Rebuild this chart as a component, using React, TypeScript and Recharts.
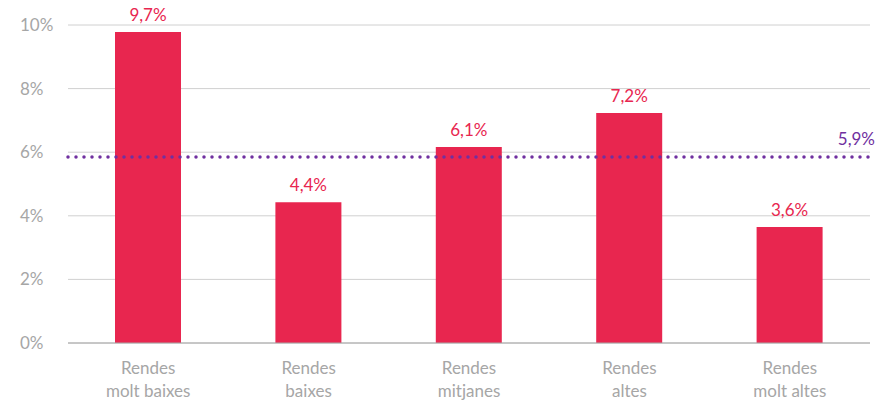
import React from 'react';
import { Bar, BarChart, CartesianGrid, LabelList, ReferenceLine, XAxis, YAxis } from 'recharts';

// categories (two lines each)
const categories = ['Rendes|molt baixes', 'Rendes|baixes', 'Rendes|mitjanes', 'Rendes|altes', 'Rendes|molt altes'];
// bar heights as drawn in the picture
const values = [9.78, 4.43, 6.16, 7.23, 3.65];
// labels printed above the bars
const valueLabels = ['9,7%', '4,4%', '6,1%', '7,2%', '3,6%'];
const yTicks = [0, 2, 4, 6, 8, 10];
const average = 5.85;
const averageLabel = '5,9%';

const BAR_COLOR = '#E8264F';
const LINE_COLOR = '#7030A0';
const TEXT_GRAY = '#A6A6A6';
const FONT = 'Lato, "Open Sans", sans-serif';

const data = categories.map((c, i) => ({ name: c, value: values[i], label: valueLabels[i] }));

const XTick = (props: any) => {
  const { x, y, payload } = props;
  const lines = String(payload.value).split('|');
  return (
    <text x={x} y={y} textAnchor="middle" fill={TEXT_GRAY} fontSize={17} fontFamily={FONT}>
      {lines.map((l, i) => (
        <tspan key={i} x={x} dy={23}>
          {l}
        </tspan>
      ))}
    </text>
  );
};

const YTick = (props: any) => {
  const { y, payload } = props;
  return (
    <text x={20} y={y} dy={6} textAnchor="start" fill={TEXT_GRAY} fontSize={17} fontFamily={FONT}>
      {`${payload.value}%`}
    </text>
  );
};

export default function App() {
  return (
    <div style={{ position: 'absolute', left: 0, top: 0, background: '#fff' }}>
      <BarChart
        width={895}
        height={402}
        data={data}
        margin={{ top: 25, right: 25, left: 0, bottom: 0 }}
        barCategoryGap={47}
      >
        <CartesianGrid vertical={false} stroke="#D0D0D0" strokeWidth={1} />
        <XAxis
          dataKey="name"
          tick={<XTick />}
          tickLine={false}
          axisLine={{ stroke: '#A6A6A6' }}
          interval={0}
          height={59}
        />
        <YAxis
          domain={[0, 10]}
          ticks={yTicks}
          tick={<YTick />}
          tickLine={false}
          axisLine={false}
          width={68}
          interval={0}
        />
        <Bar dataKey="value" fill={BAR_COLOR} barSize={66} isAnimationActive={false}>
          <LabelList
            dataKey="label"
            position="top"
            offset={11}
            fill={BAR_COLOR}
            fontSize={17}
            fontFamily={FONT}
          />
        </Bar>
        <ReferenceLine
          y={average}
          stroke={LINE_COLOR}
          strokeWidth={3.5}
          strokeDasharray="0 8"
          strokeLinecap="round"
          label={(p: any) => {
            const vb = p.viewBox;
            return (
              <text
                x={vb.x + vb.width + 5}
                y={vb.y - 12}
                textAnchor="end"
                fill={LINE_COLOR}
                fontSize={17}
                fontFamily={FONT}
              >
                {averageLabel}
              </text>
            );
          }}
        />
      </BarChart>
    </div>
  );
}
